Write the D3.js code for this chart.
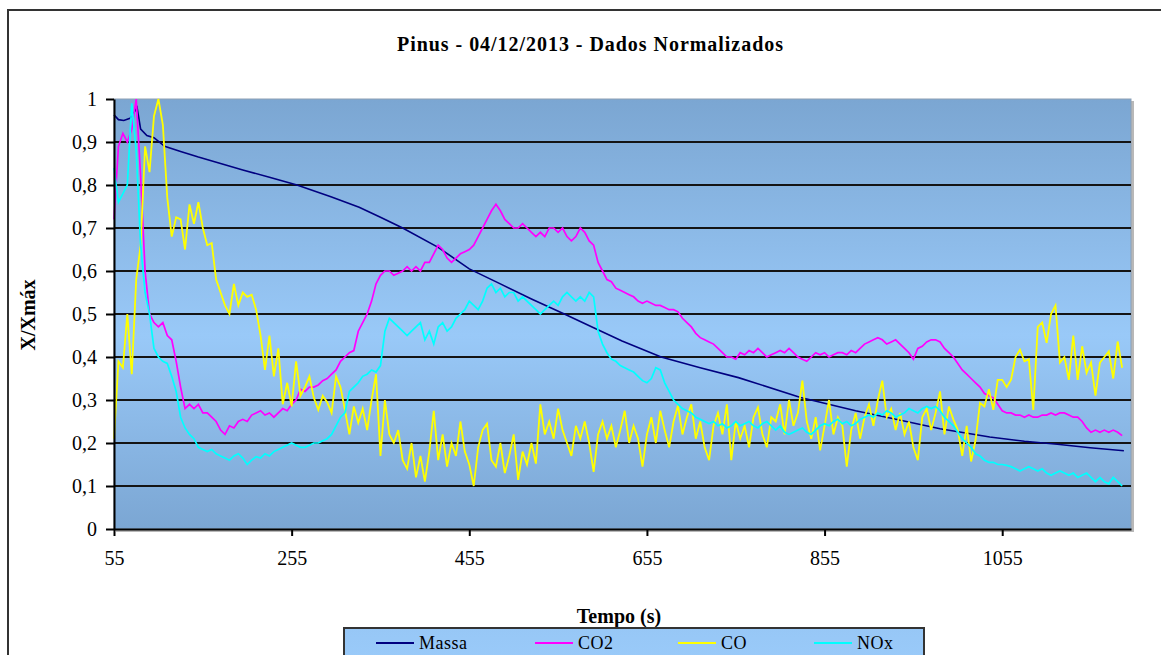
<!DOCTYPE html>
<html>
<head>
<meta charset="utf-8">
<script src="https://cdn.jsdelivr.net/npm/d3@7"></script>
<style>
  body { margin: 0; background: #fff; overflow: hidden; }
  svg text { font-family: "Liberation Serif", "Times New Roman", serif; fill: #000; }
</style>
</head>
<body>
<div id="chart-area"></div>
<script>
// Tempo (s) - uma leitura a cada 5 s
var tempo = d3.range(55, 1191, 5);

var co2 = [
	0.72, 0.89, 0.92, 0.90, 0.93, 1.0, 0.82, 0.60, 0.50, 0.48,
	0.47, 0.48, 0.45, 0.44, 0.39, 0.33, 0.28, 0.29, 0.28, 0.29,
	0.27, 0.27, 0.26, 0.25, 0.23, 0.22, 0.24, 0.235, 0.25, 0.255,
	0.25, 0.265, 0.27, 0.275, 0.265, 0.27, 0.26, 0.27, 0.28, 0.275,
	0.29, 0.30, 0.325, 0.32, 0.33, 0.33, 0.335, 0.345, 0.35, 0.36,
	0.37, 0.39, 0.40, 0.41, 0.415, 0.46, 0.48, 0.50, 0.53, 0.57,
	0.59, 0.60, 0.60, 0.59, 0.595, 0.60, 0.61, 0.60, 0.61, 0.60,
	0.62, 0.62, 0.64, 0.66, 0.65, 0.63, 0.62, 0.63, 0.64, 0.645,
	0.65, 0.66, 0.68, 0.70, 0.72, 0.74, 0.755, 0.74, 0.72, 0.71,
	0.70, 0.70, 0.71, 0.70, 0.69, 0.68, 0.69, 0.68, 0.70, 0.70,
	0.69, 0.70, 0.68, 0.67, 0.68, 0.70, 0.69, 0.67, 0.66, 0.62,
	0.60, 0.58, 0.575, 0.56, 0.555, 0.55, 0.545, 0.54, 0.53, 0.525,
	0.53, 0.525, 0.52, 0.52, 0.515, 0.51, 0.51, 0.505, 0.49, 0.48,
	0.47, 0.455, 0.445, 0.44, 0.435, 0.43, 0.42, 0.41, 0.40, 0.40,
	0.395, 0.41, 0.405, 0.415, 0.41, 0.42, 0.41, 0.40, 0.405, 0.41,
	0.415, 0.41, 0.42, 0.41, 0.40, 0.395, 0.39, 0.40, 0.41, 0.405,
	0.41, 0.40, 0.405, 0.41, 0.41, 0.405, 0.415, 0.41, 0.42, 0.43,
	0.435, 0.44, 0.445, 0.44, 0.43, 0.435, 0.44, 0.43, 0.42, 0.41,
	0.395, 0.42, 0.425, 0.435, 0.44, 0.44, 0.435, 0.42, 0.41, 0.40,
	0.385, 0.37, 0.36, 0.35, 0.34, 0.33, 0.315, 0.31, 0.305, 0.29,
	0.275, 0.27, 0.27, 0.265, 0.265, 0.26, 0.265, 0.26, 0.26, 0.265,
	0.265, 0.27, 0.265, 0.27, 0.27, 0.265, 0.26, 0.26, 0.25, 0.235,
	0.225, 0.23, 0.225, 0.23, 0.225, 0.23, 0.225, 0.217
];

var co = [
	0.21, 0.39, 0.375, 0.50, 0.36, 0.58, 0.66, 0.89, 0.83, 0.96,
	1.0, 0.94, 0.77, 0.68, 0.725, 0.72, 0.65, 0.755, 0.71, 0.76,
	0.70, 0.66, 0.665, 0.58, 0.55, 0.52, 0.50, 0.57, 0.52, 0.55,
	0.54, 0.545, 0.51, 0.45, 0.37, 0.45, 0.355, 0.42, 0.29, 0.34,
	0.285, 0.39, 0.31, 0.33, 0.355, 0.305, 0.277, 0.31, 0.295, 0.27,
	0.355, 0.33, 0.277, 0.22, 0.285, 0.247, 0.28, 0.23, 0.30, 0.36,
	0.17, 0.30, 0.22, 0.20, 0.23, 0.16, 0.14, 0.20, 0.12, 0.17,
	0.11, 0.18, 0.275, 0.16, 0.22, 0.145, 0.20, 0.17, 0.25, 0.18,
	0.15, 0.10, 0.19, 0.23, 0.245, 0.16, 0.145, 0.20, 0.13, 0.17,
	0.22, 0.114, 0.18, 0.15, 0.20, 0.152, 0.29, 0.22, 0.25, 0.21,
	0.28, 0.23, 0.20, 0.17, 0.24, 0.21, 0.25, 0.20, 0.133, 0.22,
	0.25, 0.21, 0.24, 0.19, 0.23, 0.275, 0.20, 0.24, 0.21, 0.145,
	0.22, 0.26, 0.20, 0.275, 0.23, 0.19, 0.25, 0.287, 0.22, 0.26,
	0.29, 0.21, 0.25, 0.19, 0.16, 0.24, 0.27, 0.22, 0.29, 0.16,
	0.25, 0.21, 0.24, 0.19, 0.26, 0.283, 0.22, 0.19, 0.26, 0.25,
	0.29, 0.22, 0.30, 0.24, 0.27, 0.345, 0.25, 0.21, 0.26, 0.183,
	0.24, 0.30, 0.22, 0.26, 0.24, 0.145, 0.23, 0.27, 0.21, 0.26,
	0.29, 0.24, 0.30, 0.345, 0.26, 0.28, 0.23, 0.27, 0.22, 0.25,
	0.19, 0.16, 0.26, 0.28, 0.23, 0.27, 0.32, 0.22, 0.285, 0.255,
	0.23, 0.17, 0.24, 0.157, 0.207, 0.293, 0.285, 0.325, 0.277, 0.347,
	0.347, 0.33, 0.347, 0.40, 0.417, 0.39, 0.395, 0.277, 0.47, 0.48,
	0.433, 0.50, 0.52, 0.387, 0.40, 0.347, 0.45, 0.347, 0.425, 0.363,
	0.387, 0.31, 0.387, 0.40, 0.413, 0.35, 0.436, 0.375
];

var nox = [
	0.84, 0.76, 0.78, 0.80, 0.99, 0.88, 0.66, 0.55, 0.50, 0.42,
	0.40, 0.39, 0.385, 0.355, 0.32, 0.26, 0.235, 0.22, 0.21, 0.19,
	0.185, 0.18, 0.185, 0.175, 0.17, 0.165, 0.16, 0.17, 0.175, 0.165,
	0.15, 0.16, 0.168, 0.165, 0.175, 0.17, 0.18, 0.185, 0.19, 0.195,
	0.20, 0.195, 0.19, 0.19, 0.195, 0.20, 0.20, 0.205, 0.21, 0.22,
	0.24, 0.26, 0.27, 0.32, 0.33, 0.34, 0.355, 0.36, 0.37, 0.365,
	0.38, 0.46, 0.49, 0.48, 0.47, 0.46, 0.45, 0.46, 0.47, 0.48,
	0.44, 0.46, 0.43, 0.47, 0.48, 0.46, 0.47, 0.49, 0.50, 0.51,
	0.53, 0.52, 0.51, 0.53, 0.56, 0.57, 0.55, 0.56, 0.54, 0.55,
	0.55, 0.53, 0.54, 0.53, 0.52, 0.51, 0.50, 0.51, 0.52, 0.53,
	0.52, 0.54, 0.55, 0.54, 0.53, 0.54, 0.53, 0.55, 0.54, 0.46,
	0.43, 0.41, 0.395, 0.39, 0.38, 0.375, 0.37, 0.365, 0.355, 0.345,
	0.34, 0.35, 0.375, 0.37, 0.34, 0.32, 0.30, 0.29, 0.28, 0.275,
	0.27, 0.26, 0.255, 0.25, 0.245, 0.25, 0.24, 0.245, 0.235, 0.24,
	0.25, 0.24, 0.245, 0.25, 0.24, 0.235, 0.245, 0.25, 0.24, 0.23,
	0.24, 0.225, 0.22, 0.225, 0.23, 0.235, 0.225, 0.22, 0.23, 0.24,
	0.245, 0.24, 0.25, 0.255, 0.245, 0.25, 0.24, 0.245, 0.255, 0.26,
	0.265, 0.26, 0.27, 0.265, 0.275, 0.27, 0.26, 0.265, 0.27, 0.28,
	0.275, 0.27, 0.28, 0.285, 0.28, 0.285, 0.275, 0.26, 0.25, 0.24,
	0.225, 0.21, 0.20, 0.19, 0.175, 0.17, 0.16, 0.155, 0.155, 0.15,
	0.15, 0.148, 0.145, 0.14, 0.135, 0.14, 0.145, 0.14, 0.135, 0.14,
	0.13, 0.125, 0.13, 0.135, 0.13, 0.125, 0.13, 0.12, 0.125, 0.13,
	0.12, 0.11, 0.12, 0.11, 0.105, 0.12, 0.11, 0.10
];

// Massa: curva suave, lida em menos pontos
var massaTempo = [55, 60, 66, 73, 78, 81, 85, 92, 100, 112, 130, 150, 175, 200, 230, 261, 300, 331, 355, 380,
	420, 455, 490, 525, 562, 595, 627, 671, 715, 758, 828, 890, 934, 985, 1041, 1080, 1117, 1154, 1192];
var massa = [0.963, 0.952, 0.95, 0.955, 0.97, 0.98, 0.93, 0.915, 0.91, 0.89, 0.878, 0.865, 0.85, 0.835, 0.818, 0.80, 0.772, 0.748, 0.725, 0.70,
	0.655, 0.605, 0.57, 0.535, 0.50, 0.468, 0.437, 0.40, 0.375, 0.352, 0.306, 0.275, 0.256, 0.233, 0.214, 0.204, 0.197, 0.189, 0.182];

var xTicks = [55, 255, 455, 655, 855, 1055];
var yTicks = [0, 0.1, 0.2, 0.3, 0.4, 0.5, 0.6, 0.7, 0.8, 0.9, 1];
var nomes = ["Massa", "CO2", "CO", "NOx"];
var cores = ["#000080", "#ff00ff", "#ffff00", "#00ffff"];

// SVG Size
var width = 1161,
	height = 655;
var plot = {left: 114, right: 1131, top: 99, bottom: 529};

var svg = d3.select("#chart-area").append("svg")
	.attr("width", width)
	.attr("height", height);

// gradiente da area do grafico
var defs = svg.append("defs");
var grad = defs.append("linearGradient")
	.attr("id", "fundo")
	.attr("x1", 0).attr("y1", 0).attr("x2", 0).attr("y2", 1);
grad.append("stop").attr("offset", "0%").attr("stop-color", "#7ba6d2");
grad.append("stop").attr("offset", "55%").attr("stop-color", "#99c9f8");
grad.append("stop").attr("offset", "100%").attr("stop-color", "#7ba6d3");

var gradLeg = defs.append("linearGradient")
	.attr("id", "fundoLegenda")
	.attr("x1", 0).attr("y1", 0).attr("x2", 0).attr("y2", 1);
gradLeg.append("stop").attr("offset", "0%").attr("stop-color", "#97c7f6");
gradLeg.append("stop").attr("offset", "100%").attr("stop-color", "#9ccdfc");

// borda externa
svg.append("rect")
	.attr("x", 8).attr("y", 10)
	.attr("width", 1200).attr("height", 700)
	.attr("fill", "#fff")
	.attr("stroke", "#333")
	.attr("stroke-width", 2);

// scales
var xScale = d3.scaleLinear()
	.domain([55, 1200])
	.range([plot.left, plot.right]);

var yScale = d3.scaleLinear()
	.domain([0, 1])
	.range([plot.bottom, plot.top]);

// area do grafico com sombra
svg.append("rect")
	.attr("x", plot.left + 2).attr("y", plot.top + 2)
	.attr("width", plot.right - plot.left + 1).attr("height", plot.bottom - plot.top + 1)
	.attr("fill", "#b8b8b8");
svg.append("rect")
	.attr("x", plot.left).attr("y", plot.top)
	.attr("width", plot.right - plot.left).attr("height", plot.bottom - plot.top)
	.attr("fill", "url(#fundo)")
	.attr("stroke", "#8d9fb3")
	.attr("stroke-width", 1);

// linhas de grade
svg.append("g")
	.selectAll("line")
	.data(yTicks.filter(function(d) { return d > 0 && d < 1; }))
	.enter()
	.append("line")
	.attr("x1", plot.left)
	.attr("x2", plot.right)
	.attr("y1", function(d) { return yScale(d); })
	.attr("y2", function(d) { return yScale(d); })
	.attr("stroke", "#141414")
	.attr("stroke-width", 2);

// series
var linha = d3.line()
	.x(function(d) { return xScale(d[0]); })
	.y(function(d) { return yScale(d[1]); });

var dados = [
	massaTempo.map(function(t, i) { return [t, massa[i]]; }),
	tempo.slice(0, co2.length).map(function(t, i) { return [t, co2[i]]; }),
	tempo.slice(0, co.length).map(function(t, i) { return [t, co[i]]; }),
	tempo.slice(0, nox.length).map(function(t, i) { return [t, nox[i]]; })
];
var larguras = [1.6, 1.7, 1.8, 1.7];

svg.append("g")
	.selectAll("path")
	.data(dados)
	.enter()
	.append("path")
	.attr("d", linha)
	.attr("fill", "none")
	.attr("stroke", function(d, i) { return cores[i]; })
	.attr("stroke-width", function(d, i) { return larguras[i]; })
	.attr("stroke-linejoin", "miter");

// eixos
var yAxis = d3.axisLeft(yScale)
	.tickValues(yTicks)
	.tickSize(8)
	.tickSizeOuter(0)
	.tickPadding(9)
	.tickFormat(function(d) { return d === 0 || d === 1 ? String(d) : d.toFixed(1).replace(".", ","); });
var gy = svg.append("g")
	.attr("transform", "translate(" + plot.left + ",0)")
	.call(yAxis);

var xAxis = d3.axisBottom(xScale)
	.tickValues(xTicks)
	.tickSize(7)
	.tickSizeOuter(0)
	.tickPadding(15)
	.tickFormat(d3.format("d"));
var gx = svg.append("g")
	.attr("transform", "translate(0," + plot.bottom + ")")
	.call(xAxis);

[gx, gy].forEach(function(g) {
	g.attr("font-family", null).attr("font-size", null);
	g.selectAll(".domain").attr("stroke", "#000").attr("stroke-width", 2);
	g.selectAll(".tick line").attr("stroke", "#000").attr("stroke-width", 2);
	g.selectAll(".tick text").style("font-size", "20px").attr("fill", "#000");
});

// titulos
svg.append("text")
	.attr("x", 590)
	.attr("y", 51)
	.attr("text-anchor", "middle")
	.attr("textLength", 386)
	.attr("lengthAdjust", "spacing")
	.style("font-size", "20px")
	.style("font-weight", "bold")
	.text("Pinus - 04/12/2013 - Dados Normalizados");

svg.append("text")
	.attr("x", 619)
	.attr("y", 623)
	.attr("text-anchor", "middle")
	.style("font-size", "20px")
	.style("font-weight", "bold")
	.text("Tempo (s)");

svg.append("text")
	.attr("transform", "translate(35,315) rotate(-90)")
	.attr("text-anchor", "middle")
	.style("font-size", "20px")
	.style("font-weight", "bold")
	.text("X/Xmáx");

// legenda (a caixa continua abaixo da borda da imagem)
svg.append("rect")
	.attr("x", 344).attr("y", 628)
	.attr("width", 580).attr("height", 60)
	.attr("fill", "url(#fundoLegenda)")
	.attr("stroke", "#333")
	.attr("stroke-width", 2);

var legX = [376, 535, 678, 814];
var leg = svg.append("g")
	.selectAll("g")
	.data(nomes)
	.enter()
	.append("g")
	.attr("transform", function(d, i) { return "translate(" + legX[i] + ",0)"; });
leg.append("line")
	.attr("x1", 0).attr("x2", 38)
	.attr("y1", 643).attr("y2", 643)
	.attr("stroke", function(d, i) { return cores[i]; })
	.attr("stroke-width", 2);
leg.append("text")
	.attr("x", 43)
	.attr("y", 649)
	.style("font-size", "18px")
	.style("letter-spacing", "0.5px")
	.text(function(d) { return d; });
</script>
</body>
</html>
